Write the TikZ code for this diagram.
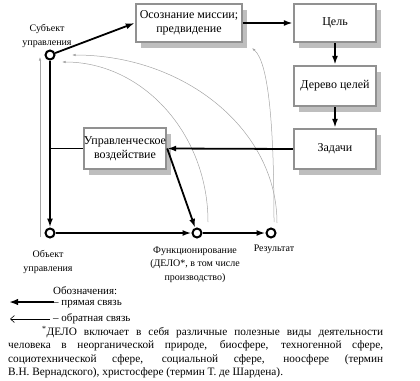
\documentclass[tikz,border=0pt]{standalone}
\usepackage{fontspec}
\setmainfont{Liberation Serif}
\usetikzlibrary{arrows.meta,shadows}
\definecolor{boxgray}{RGB}{145,145,145}
\definecolor{shadowgray}{RGB}{190,190,190}
\definecolor{fbgray}{RGB}{165,165,165}
\begin{document}
\begin{tikzpicture}[x=1pt,y=-1pt,
  box/.style={draw=boxgray, line width=2.4pt, fill=white, align=center, inner sep=1pt,
     font=\rmfamily\fontsize{12}{13.5}\selectfont,
     drop shadow={shadow xshift=5pt, shadow yshift=-6pt, fill=shadowgray, opacity=1}},
  ring/.style={circle, draw=black, line width=2pt, fill=white, inner sep=0pt, minimum size=9pt},
  main/.style={line width=1.8pt, -{Latex[length=9pt,width=6pt]}},
  fb/.style={draw=fbgray, line width=0.5pt, -{Latex[length=3.5pt,width=2.4pt]}},
  lbl/.style={align=center, font=\rmfamily\fontsize{10}{13.5}\selectfont, inner sep=0pt},
  legtext/.style={anchor=west, inner sep=0pt, font=\rmfamily\fontsize{11}{13}\selectfont}]
\useasboundingbox (0,0) rectangle (420,380);

% feedback curves (behind)
\coordinate (fi0) at (208,222); \coordinate (fi1) at (62,62);
\coordinate (fo0) at (277,223); \coordinate (fo1) at (72,55);
\coordinate (ft0) at (274,222); \coordinate (ft1) at (252,48);
\coordinate (fv0) at (40,237);  \coordinate (fv1) at (40,57);
\draw[fb] (fi0) .. controls (208,134) and (143,62) .. (fi1);
\draw[fb] (fo0) .. controls (277,130) and (185,55) .. (fo1);
\draw[fb] (ft0) .. controls (274,120) and (268,62) .. (ft1);
\draw[fb] (fv0) -- (fv1);

% boxes
\node[box, minimum width=106pt, minimum height=38pt] (osoz) at (189,23) {Осознание миссии;\\предвидение};
\node[box, minimum width=82pt, minimum height=38pt] (cel) at (335,23) {Цель};
\node[box, minimum width=82pt, minimum height=40pt] (der) at (335,86) {Дерево целей};
\node[box, minimum width=82pt, minimum height=40pt] (zad) at (335,149) {Задачи};
\node[box, inner xsep=-1pt, minimum width=82pt, minimum height=41pt] (upr) at (125,148.5) {Управленческое\\воздействие};

% rings
\node[ring] (s) at (50,55) {};
\node[ring] (o) at (50,233) {};
\node[ring] (f) at (197,233) {};
\node[ring] (r) at (271,233) {};

% labels
\node[lbl] (ls) at (47,36) {Субъект\\управления};
\node[lbl] (lo) at (48,262) {Объект\\управления};
\node[lbl] (lf) at (195,264.5) {Функционирование\\(ДЕЛО*, в том числе\\производство)};
\node[lbl] (lr) at (274,249) {Результат};

% main connections
\draw[main] (s) -- (osoz.west);
\draw[main] (osoz) -- (cel);
\draw[main] (cel) -- (der);
\draw[main] (der) -- (zad);
\draw[main] (zad.west) -- (upr.east);
\draw[line width=1.8pt] (upr.west) -- (upr.west -| s);
\draw[main] (s) -- (o);
\draw[main] (upr.east) -- (f);
\draw[main] (o) -- (f);
\draw[main] (f) -- (r);

% legend
\node[legtext] (leg0) at (53,291) {Обозначения:};
\node[legtext] (leg1) at (53,304) {– прямая связь};
\node[legtext] (leg2) at (53,319) {– обратная связь};
\coordinate (a1) at (54,302); \coordinate (a1e) at (9,302);
\coordinate (a2) at (50,319); \coordinate (a2e) at (10,319);
\draw[line width=2.2pt, -{Latex[length=9pt,width=6.5pt]}] (a1) -- (a1e);
\draw[line width=0.6pt, -{Straight Barb[length=4pt,width=7pt]}] (a2) -- (a2e);

% footnote
\node[anchor=north west, inner sep=0pt, text width=375pt, align=justify,
      font=\rmfamily\fontsize{11.3}{13.4}\selectfont] (note) at (8,326)
{\hspace*{34pt}\textsuperscript{*}ДЕЛО включает в себя различные полезные виды деятельности\linebreak
человека в неорганической природе, биосфере, техногенной сфере,\linebreak
социотехнической сфере, социальной сфере, ноосфере (термин\linebreak
В.Н. Вернадского), христосфере (термин Т. де Шардена).};
\end{tikzpicture}
\end{document}
